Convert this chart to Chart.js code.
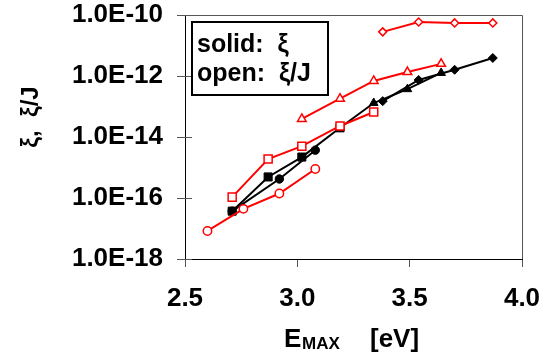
<!DOCTYPE html>
<html>
<head>
<meta charset="utf-8">
<script src="https://cdn.jsdelivr.net/npm/chart.js@4.4.0/dist/chart.umd.min.js"></script>
<style>
  html, body { margin: 0; padding: 0; background: #fff; }
  #wrap { width: 549px; height: 355px; position: relative; }
</style>
</head>
<body>
<div id="wrap"><canvas id="chart-emax"></canvas></div>
<script>
// ---- data ----
var xTicks = [2.5, 3.0, 3.5, 4.0];
var yTicks = [1e-18, 1e-16, 1e-14, 1e-12, 1e-10];

// open markers (xi / J), red
var circOpenX = [2.60, 2.76, 2.92, 3.08];
var circOpenY = [8.3e-18, 4.4e-17, 1.4e-16, 8.9e-16];
var sqOpenX   = [2.71, 2.87, 3.02, 3.19, 3.34];
var sqOpenY   = [1.07e-16, 1.9e-15, 5.0e-15, 2.3e-14, 6.6e-14];
var triOpenX  = [3.02, 3.19, 3.34, 3.49, 3.64];
var triOpenY  = [3.9e-14, 1.8e-13, 6.9e-13, 1.35e-12, 2.5e-12];
var diaOpenX  = [3.38, 3.54, 3.70, 3.87];
var diaOpenY  = [2.8e-11, 5.9e-11, 5.5e-11, 5.5e-11];

// solid markers (xi), black
var circSolidX = [2.71, 2.92, 3.08];
var circSolidY = [3.7e-17, 4.2e-16, 3.7e-15];
var sqSolidX   = [2.71, 2.87, 3.02, 3.19];
var sqSolidY   = [3.7e-17, 4.9e-16, 2.2e-15, 2.0e-14];
var triSolidX  = [3.19, 3.34, 3.49, 3.64];
var triSolidY  = [2.0e-14, 1.3e-13, 3.7e-13, 1.26e-12];
var diaSolidX  = [3.38, 3.54, 3.70, 3.87];
var diaSolidY  = [1.5e-13, 7.4e-13, 1.6e-12, 3.9e-12];

var FONT = "'Liberation Sans', Arial, sans-serif";

function pts(xs, ys){
  return xs.map(function(x, i){ return {x: x, y: ys[i]}; });
}

function series(xs, ys, color, style, radius, open){
  return {
    data: pts(xs, ys),
    showLine: true,
    borderColor: color,
    borderWidth: 2,
    pointStyle: style,
    pointRadius: radius,
    pointHoverRadius: radius,
    pointBorderColor: color,
    pointBackgroundColor: open ? "#fff" : color,
    pointBorderWidth: open ? 1.5 : 1
  };
}

// text boxes, axis titles, border, inner y ticks
var decoPlugin = {
  id: "deco",
  afterDraw: function(chart){
    var ctx = chart.ctx, a = chart.chartArea;
    var ys = chart.scales.y;
    ctx.save();
    // top / right frame
    ctx.strokeStyle = "#555";
    ctx.lineWidth = 1;
    ctx.beginPath();
    ctx.moveTo(a.left, a.top + 0.5); ctx.lineTo(a.right + 0.5, a.top + 0.5);
    ctx.lineTo(a.right + 0.5, a.bottom);
    ctx.stroke();
    // y ticks crossing into the plot
    yTicks.forEach(function(v){
      var py = Math.round(ys.getPixelForValue(v)) + 0.5;
      ctx.beginPath(); ctx.moveTo(a.left, py); ctx.lineTo(a.left + 7, py); ctx.stroke();
    });

    // legend-like note
    ctx.fillStyle = "#fff";
    ctx.fillRect(192, 22, 136, 73);
    ctx.strokeStyle = "#000";
    ctx.lineWidth = 2;
    ctx.strokeRect(192, 22, 136, 73);
    ctx.fillStyle = "#000";
    ctx.font = "bold 25px " + FONT;
    ctx.textAlign = "left";
    ctx.textBaseline = "alphabetic";
    ctx.fillText("solid:  \u03BE", 197, 52);
    ctx.fillText("open:  \u03BE/J", 197, 81);

    // x title with subscript
    ctx.font = "bold 26px " + FONT;
    ctx.fillText("E", 284, 347);
    ctx.font = "bold 17px " + FONT;
    ctx.fillText("MAX", 302, 349);
    ctx.font = "bold 26px " + FONT;
    ctx.fillText("[eV]", 370, 347);

    // y title
    ctx.translate(31, 117);
    ctx.rotate(-Math.PI / 2);
    ctx.textAlign = "center";
    ctx.textBaseline = "middle";
    ctx.font = "bold 24px " + FONT;
    ctx.fillText("\u03BE,  \u03BE/J", 0, 0);
    ctx.restore();
  }
};

var htmlTag = document.getElementById("chart-emax");
var configEmax = {
  type: "scatter",
  data: {
    datasets: [
      series(circOpenX, circOpenY, "#ff0000", "circle", 4.2, true),
      series(sqOpenX, sqOpenY, "#ff0000", "rect", 5.7, true),
      series(triOpenX, triOpenY, "#ff0000", "triangle", 5, true),
      series(diaOpenX, diaOpenY, "#ff0000", "rectRot", 4, true),
      series(circSolidX, circSolidY, "#000000", "circle", 4.2, false),
      series(sqSolidX, sqSolidY, "#000000", "rect", 5.7, false),
      series(triSolidX, triSolidY, "#000000", "triangle", 5, false),
      series(diaSolidX, diaSolidY, "#000000", "rectRot", 4.5, false)
    ]
  },
  options: {
    responsive: true,
    maintainAspectRatio: false,
    animation: false,
    layout: { padding: { left: 0, right: 27, top: 15, bottom: 0 } },
    plugins: {
      legend: { display: false },
      tooltip: { enabled: false }
    },
    scales: {
      x: {
        type: "linear",
        min: 2.5,
        max: 4.0,
        afterBuildTicks: function(scale){
          scale.ticks = xTicks.map(function(v){ return {value: v}; });
        },
        afterFit: function(scale){
          scale.height = 96;
          scale.paddingLeft = 0; scale.paddingRight = 0;
        },
        ticks: {
          padding: 16,
          color: "#000",
          font: { family: FONT, size: 26, weight: "bold" },
          callback: function(v){ return Number(v).toFixed(1); }
        },
        grid: { drawOnChartArea: false, tickLength: 8, color: "#555" },
        border: { color: "#000", width: 1 }
      },
      y: {
        type: "logarithmic",
        min: 1e-18,
        max: 1e-10,
        afterBuildTicks: function(scale){
          scale.ticks = yTicks.map(function(v){ return {value: v}; });
        },
        afterFit: function(scale){
          scale.width = 185;
          scale.paddingTop = 0; scale.paddingBottom = 0;
        },
        ticks: {
          padding: 14,
          color: "#000",
          font: { family: FONT, size: 26, weight: "bold" },
          callback: function(v){ return "1.0E" + Math.round(Math.log10(v)); }
        },
        grid: { drawOnChartArea: false, tickLength: 8, color: "#555" },
        border: { color: "#000", width: 1 }
      }
    }
  },
  plugins: [decoPlugin]
};

var chartEmax = new Chart(htmlTag, configEmax);
</script>
</body>
</html>
